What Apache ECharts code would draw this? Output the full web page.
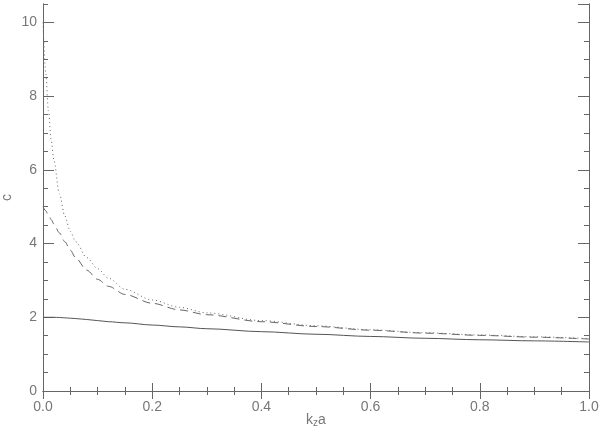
<!DOCTYPE html>
<html>
<head>
<meta charset="utf-8">
<script src="https://cdn.jsdelivr.net/npm/echarts@6/dist/echarts.min.js"></script>
<style>
  html, body { margin: 0; padding: 0; background: #fff; }
  #chart { width: 600px; height: 432px; }
</style>
</head>
<body>
<div id="chart"></div>
<script>
// k_z a values (shared x grid)
const kza = [0, 0.005, 0.01, 0.015, 0.02, 0.03, 0.04, 0.05, 0.06, 0.08, 0.1, 0.12, 0.15, 0.2, 0.25, 0.3, 0.4, 0.5, 0.6, 0.7, 0.8, 0.9, 1.0];
// dotted curve
const cDotted = [10.0, 8.65, 7.6, 6.8, 6.25, 5.35, 4.75, 4.33, 4.05, 3.62, 3.32, 3.06, 2.76, 2.47, 2.27, 2.12, 1.91, 1.77, 1.66, 1.58, 1.52, 1.47, 1.42];
// dashed curve
const cDashed = [5.0, 4.89, 4.77, 4.65, 4.53, 4.29, 4.05, 3.82, 3.61, 3.28, 3.03, 2.84, 2.62, 2.38, 2.2, 2.07, 1.88, 1.75, 1.65, 1.57, 1.51, 1.46, 1.41];
// solid curve
const cSolid = [2.0, 2.0, 2.0, 2.0, 2.0, 1.995, 1.985, 1.975, 1.965, 1.94, 1.91, 1.88, 1.85, 1.79, 1.74, 1.69, 1.61, 1.54, 1.48, 1.43, 1.39, 1.36, 1.33];

const axisColor = '#666';
const textColor = '#777';
const font = 'Liberation Sans';

const pairs = ys => kza.map((x, i) => [x, ys[i]]);

const xBase = {
  type: 'value', min: 0, max: 1, interval: 0.2,
  axisLine: { show: true, lineStyle: { color: axisColor, width: 1 } },
  axisTick: { show: true, inside: true, length: 8, lineStyle: { color: axisColor } },
  minorTick: { show: true, splitNumber: 4, length: 4, lineStyle: { color: axisColor } },
  splitLine: { show: false },
  minorSplitLine: { show: false }
};

const yBase = {
  type: 'value', min: 0, max: 10.5,
  axisLine: { show: true, onZero: false, lineStyle: { color: axisColor, width: 1 } },
  splitLine: { show: false }
};

const chart = echarts.init(document.getElementById('chart'));
chart.setOption({
  animation: false,
  backgroundColor: '#fff',
  grid: { left: 43, right: 11, top: 4, bottom: 41, containLabel: false, outerBoundsMode: 'none' },
  xAxis: [
    Object.assign({}, xBase, {
      position: 'bottom',
      name: '{k|k}{s|z}{k|a}',
      nameLocation: 'middle',
      nameGap: 22,
      nameMoveOverlap: false,
      nameTextStyle: {
        rich: {
          k: { fontFamily: font, fontSize: 14, color: textColor },
          s: { fontFamily: font, fontSize: 10, color: textColor, padding: [5, 0, 0, 0] }
        }
      },
      axisLabel: {
        fontFamily: font, fontSize: 14, color: textColor, margin: 9,
        formatter: v => v.toFixed(1)
      }
    }),
    Object.assign({}, xBase, {
      position: 'top',
      axisLabel: { show: false }
    })
  ],
  yAxis: [
    Object.assign({}, yBase, {
      position: 'left', interval: 2,
      name: 'c', nameLocation: 'middle', nameGap: 29, nameRotate: 90,
      nameMoveOverlap: false,
      nameTextStyle: { fontFamily: font, fontSize: 14, color: textColor },
      axisTick: { show: true, inside: true, length: 11, lineStyle: { color: axisColor } },
      axisLabel: { fontFamily: font, fontSize: 14, color: textColor, margin: 6, showMaxLabel: false }
    }),
    Object.assign({}, yBase, {
      position: 'left', interval: 0.5,
      axisTick: { show: true, inside: true, length: 5, lineStyle: { color: axisColor } },
      axisLabel: { show: false }
    }),
    Object.assign({}, yBase, {
      position: 'right', interval: 2,
      axisTick: { show: true, inside: true, length: 11, lineStyle: { color: axisColor } },
      axisLabel: { show: false }
    }),
    Object.assign({}, yBase, {
      position: 'right', interval: 0.5,
      axisTick: { show: true, inside: true, length: 5, lineStyle: { color: axisColor } },
      axisLabel: { show: false }
    })
  ],
  series: [
    {
      name: 'dotted', type: 'line', data: pairs(cDotted),
      xAxisIndex: 0, yAxisIndex: 0, showSymbol: false,
      smooth: 0.3, smoothMonotone: 'x',
      lineStyle: { color: '#666', width: 1, type: [1, 3] }
    },
    {
      name: 'dashed', type: 'line', data: pairs(cDashed),
      xAxisIndex: 0, yAxisIndex: 0, showSymbol: false,
      smooth: 0.3, smoothMonotone: 'x',
      lineStyle: { color: '#666', width: 1, type: [8, 5] }
    },
    {
      name: 'solid', type: 'line', data: pairs(cSolid),
      xAxisIndex: 0, yAxisIndex: 0, showSymbol: false,
      smooth: 0.3, smoothMonotone: 'x',
      lineStyle: { color: '#555', width: 1, type: 'solid' }
    }
  ]
});
</script>
</body>
</html>
